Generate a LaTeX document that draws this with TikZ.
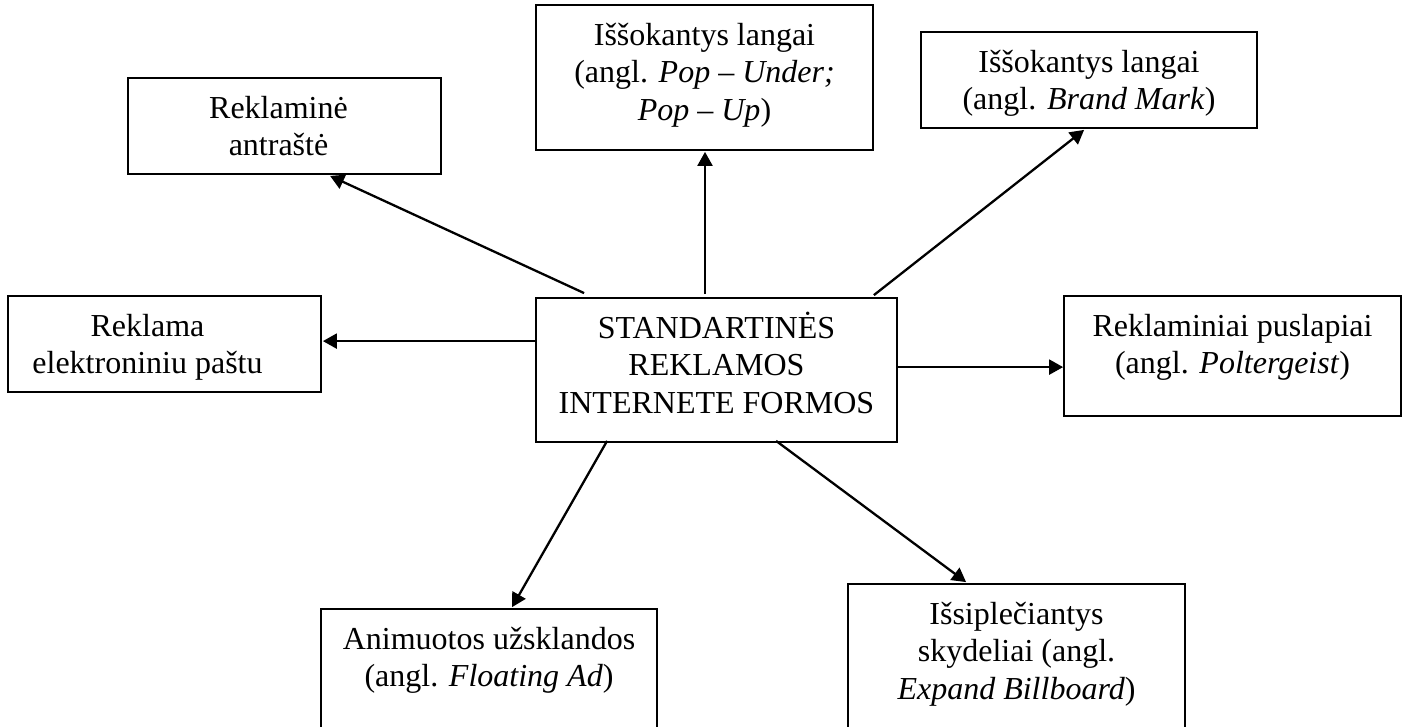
\documentclass[tikz,border=0pt]{standalone}
\usepackage{fontspec}
\setmainfont{Liberation Serif}
\usetikzlibrary{arrows.meta,calc}
\newcommand{\fstrut}{\rule{0pt}{15pt}}
\begin{document}
\begin{tikzpicture}[x=0.5pt,y=-0.5pt,
  box/.style={draw, line width=0.9pt, inner sep=0pt, rectangle},
  txt/.style={anchor=north, inner sep=0pt, align=center, font=\fontsize{16pt}{18.75pt}\selectfont},
  conn/.style={line width=1.15pt, -{Triangle[length=7pt,width=7.5pt]}}]
\useasboundingbox (0,0) rectangle (1408,727);
\clip (0,0) rectangle (1408,727);
\fill[white] (0,0) rectangle (1408,727);

% boxes
\node[box, minimum width=156.5pt, minimum height=48pt] (b1) at (284.5,126) {};
\node[box, minimum width=168.5pt, minimum height=72.5pt] (b2) at (704.5,77.5) {};
\node[box, minimum width=168pt, minimum height=48pt] (b3) at (1089,80) {};
\node[box, minimum width=156.5pt, minimum height=48pt] (b4) at (164.5,344) {};
\node[box, minimum width=180.5pt, minimum height=72pt] (c) at (716.5,370) {};
\node[box, minimum width=168.5pt, minimum height=60pt] (b6) at (1232.5,356) {};
\node[box, minimum width=168pt, minimum height=75.5pt] (b7) at (489,684.5) {};
\node[box, minimum width=168.5pt, minimum height=88pt] (b8) at (1016.5,672) {};

% texts
\node[txt] (t1) at (278.5,88) {\fstrut Reklaminė\\antraštė};
\node[txt] (t2) at (704.5,15) {\fstrut Iššokantys langai\\(angl. \textit{Pop – Under;}\\\textit{Pop – Up})};
\node[txt] (t3) at (1089,42) {\fstrut Iššokantys langai\\(angl. \textit{Brand Mark})};
\node[txt] (t4) at (147.5,306) {\fstrut Reklama\\elektroniniu paštu};
\node[txt] (tc) at (716.5,308) {\fstrut STANDARTINĖS\\REKLAMOS\\INTERNETE FORMOS};
\node[txt] (t6) at (1232.5,306) {\fstrut Reklaminiai puslapiai\\(angl. \textit{Poltergeist})};
\node[txt] (t7) at (489,619) {\fstrut Animuotos užsklandos\\(angl. \textit{Floating Ad})};
\node[txt] (t8) at (1016.5,594) {\fstrut Išsiplečiantys\\skydeliai (angl.\\\textit{Expand Billboard})};

% connectors
\draw[conn] ($(c.north west)+(49,-4)$) -- ($(b1.south west)+(203,1)$);
\draw[conn] ($(c.north)+(-11.5,-3)$) -- ($(b2.south)+(0.5,1)$);
\draw[conn] ($(c.north east)+(-24,-2)$) -- ($(b3.south west)+(164,1)$);
\draw[conn] ($(c.north west)+(0,44)$) -- ($(b4.north east)+(1,46)$);
\draw[conn] ($(c.north east)+(0,70)$) -- ($(b6.north west)+(0,72)$);
\draw[conn] ($(c.south west)+(72,-2)$) -- ($(b7.north west)+(192,-1)$);
\draw[conn] ($(c.south west)+(241,-2)$) -- ($(b8.north west)+(119,-1)$);
\end{tikzpicture}
\end{document}
